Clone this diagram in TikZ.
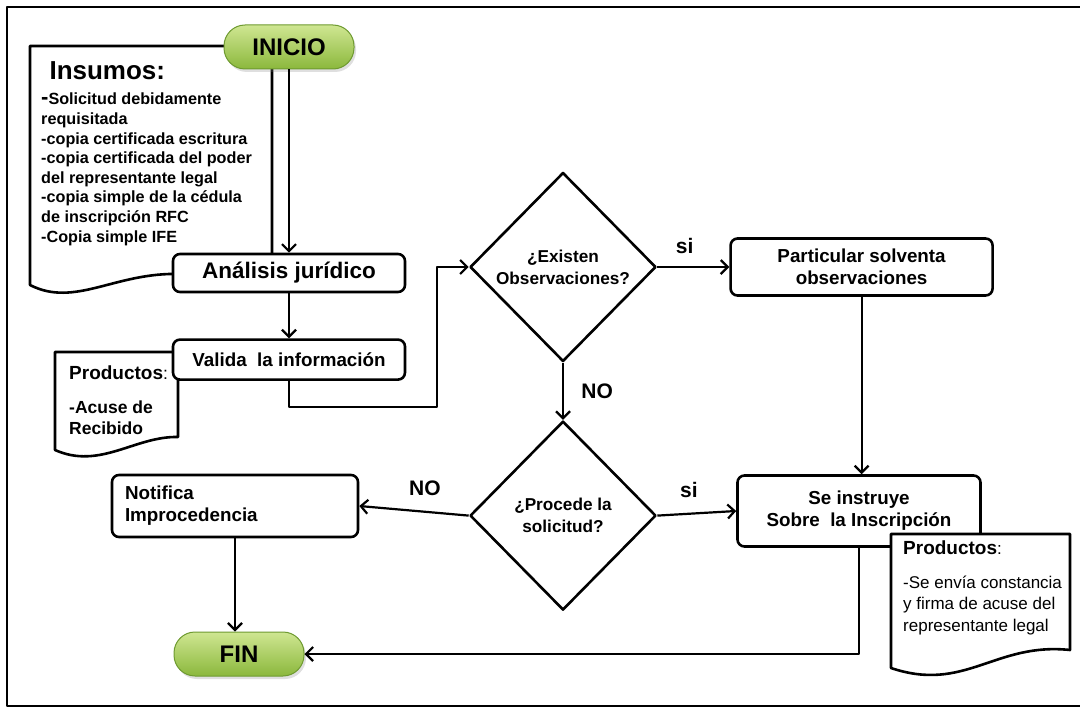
\documentclass[tikz,border=0pt]{standalone}
\usepackage{fontspec}
\setmainfont{Liberation Sans}
\usetikzlibrary{arrows.meta, positioning, shapes.geometric, shadows}

\definecolor{pilltop}{HTML}{CFE692}
\definecolor{pillbot}{HTML}{8BB83C}
\definecolor{pillline}{HTML}{6E9A30}

\begin{document}
\begin{tikzpicture}[
    x=1pt, y=-1pt, line join=round,
    pillst/.style={draw=pillline, top color=pilltop, bottom color=pillbot,
                   rounded corners=21pt, minimum width=130pt, minimum height=44pt,
                   line width=1pt, font=\fontsize{24}{24}\selectfont\bfseries,
                   drop shadow={shadow xshift=2pt, shadow yshift=-3pt, opacity=.25}},
    procst/.style={draw, line width=2.6pt, rounded corners=7pt, fill=white,
                   align=center, font=\fontsize{18.8}{22}\selectfont\bfseries},
    decst/.style={diamond, draw, line width=2.6pt, fill=white, inner sep=0pt,
                  minimum width=186pt, minimum height=189pt, align=center,
                  font=\fontsize{17.2}{22}\selectfont\bfseries},
    docst/.style={draw, line width=2.6pt, fill=white},
    lblst/.style={font=\fontsize{21}{21}\selectfont\bfseries},
    arr/.style={-{Straight Barb[length=7pt, width=14pt]}, line width=2.2pt},
  ]
  \useasboundingbox (0,0) rectangle (1080,709);
  %% frame
  \draw[line width=2.4pt] (1080,7) -- (7,7) -- (7,706) -- (1080,706);

  %% Insumos (drawn under the boxes)
  \draw[docst] (272,46) -- (30,46) -- (30,285)
    .. controls (75,308) and (115,272) .. (180,274) -- (272,274) -- cycle;
  \node[anchor=base west, font=\fontsize{26}{26}\selectfont\bfseries] (insumos) at (46,80) {Insumos:};
  \node[anchor=north west, align=left, inner sep=0pt,
        font=\fontsize{16.2}{19.6}\selectfont\bfseries] (insumoslist) at (41,93)
    {{\fontsize{22}{19}\selectfont -}Solicitud debidamente\\ requisitada\\
     -copia certificada escritura\\ -copia certificada del poder\\
     del representante legal\\ -copia simple de la cédula\\
     de inscripción RFC\\ -Copia simple IFE};

  %% Productos (left)
  \draw[docst] (178,352) -- (55,352) -- (55,450)
    .. controls (100,470) and (135,436) .. (178,437) -- cycle;
  \node[anchor=north west, align=left, inner sep=0pt,
        font=\fontsize{17.5}{21}\selectfont\bfseries] (prodizq) at (69,366)
    {{\fontsize{19}{21}\selectfont Productos}{\mdseries:}\\[13pt] -Acuse de\\ Recibido};

  %% Main flow
  \node[pillst] (inicio) at (289,47) {INICIO};
  \node[procst, minimum width=232pt, minimum height=38pt,
        font=\fontsize{22.5}{24}\selectfont\bfseries] (analisis) at (289,273) {Análisis jurídico};
  \node[procst, minimum width=232pt, minimum height=40pt, below=45pt of analisis] (valida)
    {Valida\ \ la información};
  \node[decst] (obs) at (563,267) {¿Existen\\ Observaciones?};
  \node[procst, minimum width=262pt, minimum height=57pt, right=72pt of obs] (particular)
    {Particular solventa\\ observaciones};
  \node[decst, below=57pt of obs] (procede) {¿Procede la\\ solicitud?};
  \node[procst, minimum width=243pt, minimum height=71pt] (instruye) at (859,511)
    {Se instruye\\ Sobre\ \ la Inscripción};
  \node[procst, minimum width=246pt, minimum height=62pt, text width=220pt,
        align=left, inner xsep=13pt] (notifica) at (235,506) {Notifica\\ Improcedencia};
  \node[pillst] (fin) at (239,654) {FIN};

  %% Productos (right, over the box)
  \draw[docst] (891,534) -- (1070,534) -- (1070,650)
    .. controls (995,642) and (965,693) .. (891,668) -- cycle;
  \node[anchor=north west, align=left, inner sep=0pt,
        font=\fontsize{17}{21.5}\selectfont] (prodder) at (903,541)
    {{\fontsize{19}{21}\selectfont\bfseries Productos}:\\[12pt] -Se envía constancia\\
     y firma de acuse del\\ representante legal};

  %% Arrows
  \draw[arr] (inicio) -- (analisis);
  \draw[arr] (analisis) -- (valida);
  \coordinate (codo) at (437,407);
  \draw[arr] (valida.south) |- (codo) |- (obs.west);
  \draw[arr] (obs.east) -- node[lblst, above=9pt, pos=.38] {si} (particular.west);
  \draw[arr] (obs.south) -- node[lblst, right=14pt] {NO} (procede.north);
  \draw[arr] (particular.south) -- (particular.south |- instruye.north);
  \draw[arr] (procede.east) -- node[lblst, above=12pt, pos=.4] {si} (instruye.west);
  \draw[arr] (procede.west) -- node[lblst, above=12pt, pos=.4] {NO} (notifica.east);
  \draw[arr] (notifica.south) -- (notifica.south |- fin.north);
  \draw[arr] (instruye.south) |- (fin.east);
\end{tikzpicture}
\end{document}
